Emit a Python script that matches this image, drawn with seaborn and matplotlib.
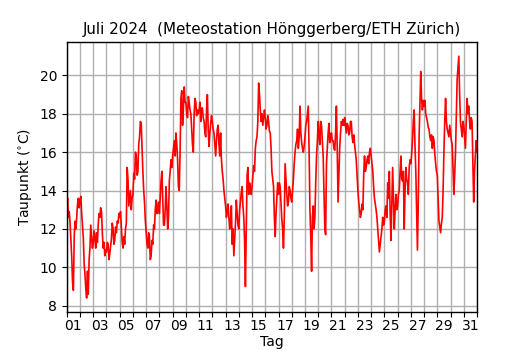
import numpy as np
import pandas as pd
import matplotlib
matplotlib.use("Agg")
import matplotlib.pyplot as plt
import seaborn as sns

# Dew point (°C), readings every 1.5 h (16 per day)
week1 = [
    13.2, 13.6, 12.6, 12.9, 12.3, 11.4, 10.5, 9.2, 8.8, 11.6, 12.4, 12.0, 12.6, 13.3, 13.6, 13.1,    # 01
    13.5, 13.7, 12.8, 12.2, 11.5, 10.2, 9.6, 8.9, 8.4, 9.8, 8.6, 10.4, 11.0, 12.2, 11.6, 11.0,       # 02
    11.3, 11.9, 11.5, 11.0, 11.8, 11.3, 12.2, 12.8, 12.6, 13.1, 12.9, 11.8, 11.0, 11.3, 10.6, 10.9,  # 03
    10.8, 11.3, 11.2, 10.4, 10.7, 11.1, 11.5, 12.3, 12.0, 11.2, 11.4, 12.1, 11.8, 12.4, 12.3, 12.8,  # 04
    12.6, 12.9, 12.1, 11.3, 11.0, 11.6, 11.2, 12.0, 12.3, 15.2, 14.6, 13.2, 13.6, 14.0, 13.0, 13.6,  # 05
    13.8, 14.9, 14.6, 16.0, 15.8, 14.8, 15.0, 16.4, 16.8, 17.6, 17.5, 16.2, 15.0, 14.0, 13.4, 12.4,  # 06
    11.8, 11.2, 11.0, 11.8, 11.6, 10.4, 10.6, 11.4, 11.2, 12.2, 12.0, 13.0, 13.5, 12.8, 13.0, 13.4,  # 07
]
week2 = [
    12.8, 13.6, 14.5, 15.0, 13.5, 12.2, 12.2, 13.0, 14.2, 13.2, 12.0, 12.6, 14.5, 15.0, 15.6, 15.2,  # 08
    15.8, 16.2, 16.6, 15.8, 17.0, 16.4, 15.6, 14.2, 14.0, 16.0, 18.8, 19.2, 17.4, 18.2, 19.4, 18.6,  # 09
    18.6, 18.0, 17.8, 18.9, 18.6, 18.2, 18.0, 17.2, 16.4, 16.0, 18.0, 18.8, 18.6, 17.9, 18.2, 18.0,  # 10
    18.2, 18.6, 17.6, 18.3, 18.3, 17.8, 17.6, 17.0, 16.8, 18.2, 19.0, 17.2, 16.3, 17.0, 17.5, 17.9,  # 11
    17.6, 17.2, 17.0, 16.4, 15.8, 16.6, 17.2, 17.4, 16.4, 15.8, 17.0, 15.6, 15.0, 14.6, 14.0, 13.6,  # 12
    13.2, 12.6, 12.9, 13.3, 12.6, 12.0, 12.4, 13.2, 11.2, 12.0, 10.6, 11.4, 12.3, 13.5, 12.8, 12.2,  # 13
    12.0, 13.0, 13.4, 13.9, 14.2, 13.2, 12.6, 11.4, 9.0, 11.8, 14.8, 15.2, 13.8, 14.4, 14.2, 13.8,   # 14
]
week3 = [
    14.2, 14.8, 15.3, 15.0, 16.2, 16.6, 16.8, 17.6, 19.6, 19.0, 18.2, 17.6, 18.0, 17.4, 17.8, 18.2,  # 15
    17.8, 17.2, 17.4, 17.9, 17.6, 17.1, 17.0, 16.2, 15.0, 14.6, 14.2, 12.6, 11.6, 12.8, 13.6, 14.4,  # 16
    13.8, 14.4, 14.2, 13.4, 12.5, 12.0, 11.0, 12.6, 15.4, 14.6, 13.8, 13.2, 13.4, 14.2, 14.0, 13.6,  # 17
    13.4, 14.0, 14.6, 15.4, 16.0, 16.4, 16.6, 17.2, 16.2, 16.8, 18.4, 17.0, 16.5, 16.2, 16.0, 16.3,  # 18
    16.8, 17.4, 17.6, 18.0, 18.4, 16.0, 13.0, 11.6, 9.8, 12.6, 13.2, 12.0, 12.6, 14.4, 15.8, 16.6,   # 19
    17.6, 16.8, 16.4, 17.6, 17.4, 16.6, 15.8, 14.0, 12.0, 11.7, 15.4, 16.2, 17.0, 17.5, 16.5, 16.8,  # 20
    17.0, 16.6, 16.6, 16.2, 16.1, 17.0, 18.4, 16.2, 13.4, 14.8, 16.2, 17.0, 17.6, 17.4, 17.7, 17.4,  # 21
]
week4 = [
    17.8, 17.4, 17.0, 17.5, 17.4, 16.9, 17.0, 17.6, 17.6, 16.8, 16.5, 16.9, 16.4, 16.0, 15.6, 14.8,  # 22
    14.0, 13.4, 13.0, 12.6, 12.8, 13.3, 13.0, 14.8, 15.8, 15.0, 15.2, 15.6, 15.8, 15.4, 16.0, 16.2,  # 23
    15.8, 15.4, 15.0, 14.2, 13.6, 13.3, 13.0, 12.6, 12.0, 11.4, 10.8, 11.2, 11.6, 12.0, 12.6, 12.2,  # 24
    12.4, 13.0, 13.2, 12.6, 14.4, 13.6, 15.0, 12.8, 11.4, 13.2, 15.2, 13.6, 12.0, 13.0, 13.8, 13.0,  # 25
    13.2, 13.8, 14.0, 15.0, 15.8, 14.6, 14.5, 15.0, 12.0, 14.0, 15.2, 14.6, 14.4, 13.8, 15.2, 15.6,  # 26
    15.4, 15.9, 16.6, 17.6, 18.2, 16.4, 15.0, 13.0, 10.9, 13.4, 16.8, 18.6, 20.2, 18.8, 18.2, 18.7,  # 27
    18.4, 18.7, 18.0, 17.8, 17.6, 17.3, 17.2, 16.8, 16.6, 16.9, 16.2, 16.8, 16.6, 15.9, 15.4, 15.0,  # 28
]
week5 = [
    14.8, 13.6, 12.4, 12.1, 11.8, 12.3, 12.6, 14.0, 16.0, 17.6, 18.8, 17.6, 17.2, 17.0, 16.8, 17.4,  # 29
    17.0, 16.6, 16.4, 15.2, 13.8, 14.8, 16.0, 17.8, 19.8, 20.4, 21.0, 19.0, 17.6, 17.2, 16.8, 17.6,  # 30
    17.4, 16.8, 16.2, 17.6, 18.8, 18.0, 18.4, 17.6, 17.2, 17.8, 17.6, 15.6, 13.4, 15.0, 15.8, 16.6,  # 31
    16.0,                                                                                           # Aug 1 00h
]
tick_days = [f"{d:02d}" for d in range(1, 32, 2)]

values = week1 + week2 + week3 + week4 + week5
df = pd.DataFrame({"t": np.arange(len(values)) * 1.5 / 24.0, "dp": values})

fig = plt.figure(figsize=(5.3, 3.5), dpi=100)
ax = fig.add_axes([0.126, 0.108, 0.774, 0.772])
sns.lineplot(data=df, x="t", y="dp", ax=ax, color="red", linewidth=1.2)

ax.set_xlim(0, 31)
ax.set_ylim(7.66, 21.74)
ax.set_yticks([8, 10, 12, 14, 16, 18, 20])
ax.set_xticks(np.arange(0, 32), minor=True)
ax.set_xticks(np.arange(0.5, 31, 2))
ax.set_xticklabels(tick_days)
ax.tick_params(axis="x", which="major", length=0, pad=5)
ax.tick_params(axis="x", which="minor", length=3.5, width=0.8)
ax.tick_params(axis="both", labelsize=10)
ax.grid(which="minor", axis="x", color="#b0b0b0", linewidth=1.0)
ax.grid(which="major", axis="y", color="#b0b0b0", linewidth=1.0)
ax.set_axisbelow(True)
for s in ax.spines.values():
    s.set_color("black")
    s.set_linewidth(1.0)

ax.set_xlabel("Tag", fontsize=10, labelpad=1)
ax.set_ylabel(r"Taupunkt ($^{\circ}$C)", fontsize=10)
ax.set_title("Juli 2024  (Meteostation Hönggerberg/ETH Zürich)", fontsize=10.9)

fig.savefig("out.png", dpi=100)
